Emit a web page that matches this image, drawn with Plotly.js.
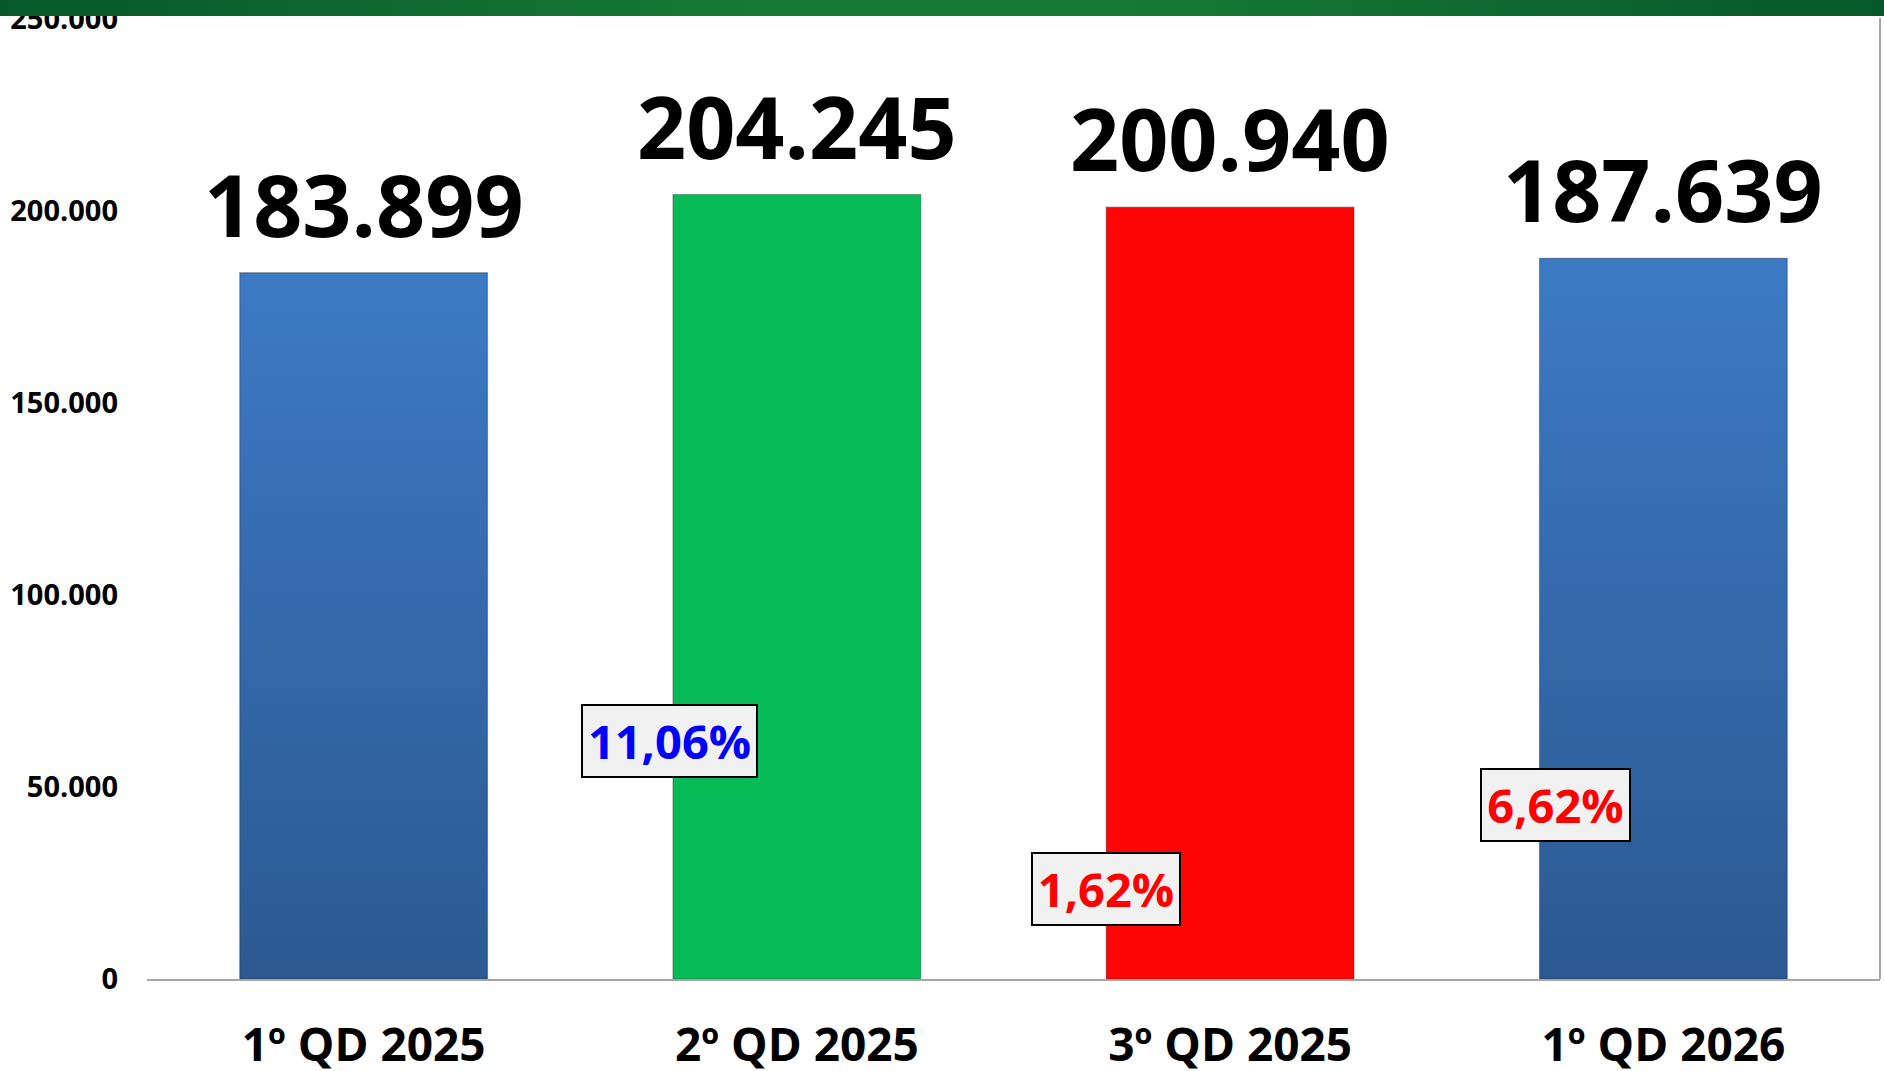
<!DOCTYPE html>
<html>
<head>
<meta charset="utf-8">
<script src="https://cdn.plot.ly/plotly-3.0.1.min.js"></script>
<style>
  html, body { margin: 0; padding: 0; background: #ffffff; }
  #wrap { position: relative; width: 1884px; height: 1071px; overflow: hidden; }
  #chart { position: absolute; left: 0; top: 0; width: 1884px; height: 1071px; }
  #topband { position: absolute; left: 0; top: 0; width: 1884px; height: 16px; z-index: 5;
    background: linear-gradient(90deg, #06582a 0%, #167a35 40%, #167a35 60%, #06582a 100%); }
</style>
</head>
<body>
<div id="wrap">
  <div id="chart"></div>
  <div id="topband"></div>
</div>
<script>
// ---- data ----
const categories = ["1º QD 2025", "2º QD 2025", "3º QD 2025", "1º QD 2026"];
const values = [183899, 204245, 200940, 187639];
const changeLabels = ["11,06%", "1,62%", "6,62%"];   // change vs previous period (categories 2..4)
const changeUp = [true, false, false];
const yTickValues = [0, 50000, 100000, 150000, 200000, 250000];

// ---- styles ----
const barColors = ["#3670b6", "#07bb57", "#ff0606", "#3670b6"];
const FONT = "'Open Sans', 'Noto Sans', 'DejaVu Sans', sans-serif";

function fmt(n) {
  return String(n).replace(/\B(?=(\d{3})+(?!\d))/g, ".");
}

const trace = {
  type: "bar",
  x: categories,
  y: values,
  marker: { color: barColors, line: { color: "rgba(0,0,0,0.28)", width: 1.2 } },
  hoverinfo: "x+y"
};

const annotations = [];
values.forEach(function (v, i) {
  annotations.push({
    x: categories[i], y: v, xref: "x", yref: "y",
    text: fmt(v), showarrow: false, yanchor: "bottom", yshift: 9,
    font: { family: FONT, size: 86, color: "#000000", weight: 700 }
  });
});

// box placement (layout only): x offset from category index, y in paper units
const boxPos = [
  { dx: -0.295, y: 0.2477, w: 173 },
  { dx: -0.286, y: 0.0937, w: 146 },
  { dx: -0.249, y: 0.181, w: 147 }
];
changeLabels.forEach(function (t, k) {
  const p = boxPos[k];
  annotations.push({
    x: (k + 1) + p.dx, y: p.y, xref: "x", yref: "paper",
    text: t, showarrow: false, xanchor: "center", yanchor: "middle",
    bgcolor: "#f1f1f1", bordercolor: "#000000", borderwidth: 2, borderpad: 0,
    width: p.w, height: 70,
    font: { family: FONT, size: 47, color: changeUp[k] ? "#0000ff" : "#ff0000", weight: 700 }
  });
});

const layout = {
  width: 1884, height: 1071,
  margin: { l: 147, r: 4, t: 18, b: 92, pad: 0 },
  paper_bgcolor: "#ffffff", plot_bgcolor: "#ffffff",
  separators: ",.",
  showlegend: false,
  bargap: 0.428,
  xaxis: {
    type: "category",
    showline: true, linecolor: "#a6a6a6", linewidth: 2,
    showgrid: false, zeroline: false, ticks: "",
    ticklabelstandoff: 25,
    tickfont: { family: FONT, size: 46, color: "#000000", weight: 700 },
    fixedrange: true
  },
  yaxis: {
    range: [0, 250200],
    tickvals: yTickValues,
    tickformat: ",d",
    showline: false, showgrid: false, zeroline: false, ticks: "",
    ticklabelstandoff: 28,
    ticklabeloverflow: "allow",
    tickfont: { family: FONT, size: 29, color: "#000000", weight: 700 },
    fixedrange: true
  },
  shapes: [
    { type: "line", xref: "paper", yref: "paper", x0: 1, x1: 1, y0: 0, y1: 1,
      line: { color: "#a6a6a6", width: 2 } }
  ],
  annotations: annotations
};

Plotly.newPlot("chart", [trace], layout, { displayModeBar: false, staticPlot: true }).then(function (gd) {
  try {
    const svg = gd.querySelector(".main-svg");
    let defs = svg.querySelector("defs");
    if (!defs) { defs = document.createElementNS("http://www.w3.org/2000/svg", "defs"); svg.insertBefore(defs, svg.firstChild); }
    const ns = "http://www.w3.org/2000/svg";
    function grad(id, stops) {
      const g = document.createElementNS(ns, "linearGradient");
      g.setAttribute("id", id);
      g.setAttribute("x1", "0"); g.setAttribute("y1", "0");
      g.setAttribute("x2", "0"); g.setAttribute("y2", "1");
      stops.forEach(function (s) {
        const st = document.createElementNS(ns, "stop");
        st.setAttribute("offset", s[0]); st.setAttribute("stop-color", s[1]);
        g.appendChild(st);
      });
      defs.appendChild(g);
    }
    grad("blueGrad", [["0", "#3d7ac4"], ["0.5", "#3469ab"], ["1", "#2c5990"]]);
    const pts = gd.querySelectorAll(".barlayer .point path");
    pts.forEach(function (p, i) {
      if (barColors[i] === "#3670b6") p.style.fill = "url(#blueGrad)";
    });
  } catch (e) {}
});
</script>
</body>
</html>
